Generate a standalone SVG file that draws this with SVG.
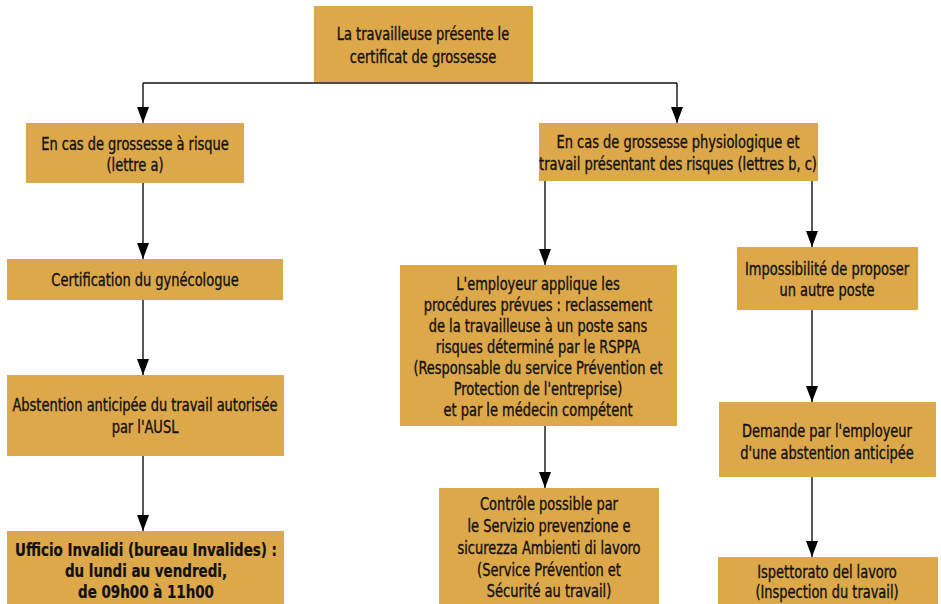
<svg xmlns="http://www.w3.org/2000/svg" width="941" height="604" viewBox="0 0 941 604">
<defs>
<style>
.box{fill:#DDA84A;}
.t{font-family:"DejaVu Sans Condensed","DejaVu Sans","Liberation Sans",sans-serif;font-stretch:condensed;font-size:17px;fill:#111;stroke:#111;stroke-width:0.35;text-anchor:middle;}
.b{font-weight:bold;stroke-width:0.2;}
.c{fill:none;stroke:#111;stroke-width:1.4;}
</style>
<marker id="ah" markerWidth="16" markerHeight="12" refX="16" refY="6" orient="auto" markerUnits="userSpaceOnUse" viewBox="0 0 16 12">
<path d="M0,0 L16,6 L0,12 Z" fill="#000"/>
</marker>
</defs>
<rect width="941" height="604" fill="#fff"/>
<g id="connectors">
<path class="c" d="M143,83 H677"/>
<path class="c" d="M143,83 V123" marker-end="url(#ah)"/>
<path class="c" d="M677,83 V123" marker-end="url(#ah)"/>
<path class="c" d="M143,183 V259" marker-end="url(#ah)"/>
<path class="c" d="M143,300 V375" marker-end="url(#ah)"/>
<path class="c" d="M143,456 V531" marker-end="url(#ah)"/>
<path class="c" d="M545,181 V265" marker-end="url(#ah)"/>
<path class="c" d="M812,181 V247" marker-end="url(#ah)"/>
<path class="c" d="M545,426 V488" marker-end="url(#ah)"/>
<path class="c" d="M812,310 V402" marker-end="url(#ah)"/>
<path class="c" d="M812,477 V557" marker-end="url(#ah)"/>
</g>
<g id="n1">
<rect class="box" x="314" y="6" width="219" height="76"/>
<g transform="translate(423,0) scale(0.85,1)">
<text class="t" x="0" y="40">La travailleuse présente le</text>
<text class="t" x="0" y="63">certificat de grossesse</text>
</g>
</g>
<g id="n2">
<rect class="box" x="26" y="123" width="218" height="60"/>
<g transform="translate(135,0) scale(0.85,1)">
<text class="t" x="0" y="150">En cas de grossesse à risque</text>
<text class="t" x="0" y="171">(lettre a)</text>
</g>
</g>
<g id="n3">
<rect class="box" x="7" y="259" width="276" height="41"/>
<g transform="translate(145,0) scale(0.85,1)">
<text class="t" x="0" y="286">Certification du gynécologue</text>
</g>
</g>
<g id="n4">
<rect class="box" x="7" y="375" width="277" height="81"/>
<g transform="translate(145,0) scale(0.85,1)">
<text class="t" x="0" y="411">Abstention anticipée du travail autorisée</text>
<text class="t" x="0" y="433">par l'AUSL</text>
</g>
</g>
<g id="n5">
<rect class="box" x="7" y="531" width="277" height="73"/>
<g transform="translate(146,0) scale(0.88,1)">
<text class="t b" x="0" y="556">Ufficio Invalidi (bureau Invalides) :</text>
<text class="t b" x="0" y="577">du lundi au vendredi,</text>
<text class="t b" x="0" y="598">de 09h00 à 11h00</text>
</g>
</g>
<g id="n6">
<rect class="box" x="539" y="123" width="279" height="58"/>
<g transform="translate(678,0) scale(0.85,1)">
<text class="t" x="0" y="148">En cas de grossesse physiologique et</text>
<text class="t" x="0" y="170">travail présentant des risques (lettres b, c)</text>
</g>
</g>
<g id="n7">
<rect class="box" x="400" y="265" width="277" height="161"/>
<g transform="translate(538,0) scale(0.85,1)">
<text class="t" x="0" y="290">L'employeur applique les</text>
<text class="t" x="0" y="311">procédures prévues : reclassement</text>
<text class="t" x="0" y="332">de la travailleuse à un poste sans</text>
<text class="t" x="0" y="353">risques déterminé par le RSPPA</text>
<text class="t" x="0" y="374">(Responsable du service Prévention et</text>
<text class="t" x="0" y="395">Protection de l'entreprise)</text>
<text class="t" x="0" y="416">et par le médecin compétent</text>
</g>
</g>
<g id="n8">
<rect class="box" x="439" y="488" width="220" height="116"/>
<g transform="translate(549,0) scale(0.85,1)">
<text class="t" x="0" y="510">Contrôle possible par</text>
<text class="t" x="0" y="532">le Servizio prevenzione e</text>
<text class="t" x="0" y="554">sicurezza Ambienti di lavoro</text>
<text class="t" x="0" y="576">(Service Prévention et</text>
<text class="t" x="0" y="597">Sécurité au travail)</text>
</g>
</g>
<g id="n9">
<rect class="box" x="737" y="247" width="181" height="63"/>
<g transform="translate(827,0) scale(0.85,1)">
<text class="t" x="0" y="275">Impossibilité de proposer</text>
<text class="t" x="0" y="296">un autre poste</text>
</g>
</g>
<g id="n10">
<rect class="box" x="719" y="402" width="217" height="75"/>
<g transform="translate(827,0) scale(0.85,1)">
<text class="t" x="0" y="437">Demande par l'employeur</text>
<text class="t" x="0" y="459">d'une abstention anticipée</text>
</g>
</g>
<g id="n11">
<rect class="box" x="718" y="557" width="220" height="47"/>
<g transform="translate(827,0) scale(0.85,1)">
<text class="t" x="0" y="578">Ispettorato del lavoro</text>
<text class="t" x="0" y="598">(Inspection du travail)</text>
</g>
</g>
</svg>
